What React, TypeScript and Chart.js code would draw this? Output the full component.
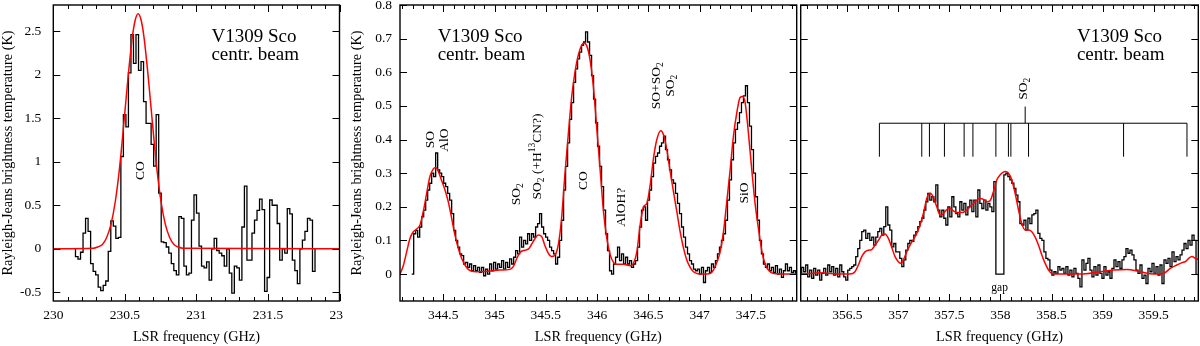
import React, { useEffect, useRef } from "react";
import { Chart, registerables } from "chart.js";

Chart.register(...registerables);

const FONT = '"Liberation Serif", "Times New Roman", Tinos, Times, serif';

// ---------------- data: CO 2-1 panel ----------------
const coStart = 230.155;
const coChannel = 0.01762;
const coValues = [
  -0.09, -0.12, -0.04, 0.18, 0.35, 0.2, -0.17, -0.26, -0.3, -0.44,
  -0.48, -0.42, -0.37, -0.03, 0.32, 0.26, 0.12, 0.13, 1.06, 1.54,
  1.4, 2.02, 2.46, 2.13, 2.46, 2.05, 2.15, 1.69, 1.44, 1.44,
  1.2, 0.95, 1.54, 0.64, 0.08, 0.07, 0.02, -0.05, -0.17, -0.25,
  -0.3, 0.37, 0.35, -0.2, -0.3, -0.28, 0.33, 0.62, 0.41, 0.03,
  -0.2, -0.22, -0.15, -0.36, 0.0, 0.12, -0.02, -0.05, -0.08, -0.2,
  0.0, -0.28, -0.51, -0.2, -0.22, -0.36, 0.25, 0.72, -0.13, -0.13,
  0.18, 0.33, 0.44, 0.57, 0.45, -0.49, -0.33, 0.56, 0.5, 0.5,
  0.29, -0.13, 0.0, -0.05, 0.46, 0.4, -0.13, -0.25, -0.4, 0.0,
  0.1, 0.2, 0.35, 0.33, -0.26,
];
const coModelFreq = [
  230.0, 230.28, 230.31, 230.343, 230.373, 230.403, 230.433, 230.463, 230.493, 230.523,
  230.553, 230.573, 230.593, 230.613, 230.633, 230.663, 230.693, 230.723, 230.753, 230.783,
  230.813, 230.843, 230.873, 230.906, 232.0,
];
const coModelValues = [
  0, 0.006, 0.02, 0.05, 0.13, 0.28, 0.54, 0.93, 1.44, 1.98,
  2.44, 2.63, 2.7, 2.63, 2.44, 1.98, 1.44, 0.93, 0.54, 0.28,
  0.13, 0.05, 0.02, 0.006, 0,
];
const coXTicks = [230, 230.5, 231, 231.5, 232];
const coYTicks = [-0.5, 0, 0.5, 1, 1.5, 2, 2.5];

// ---------------- data: 344-348 GHz panel ----------------
const midStart = 344.192;
const midChannel = 0.019493;
const midValues = [
  0.0, 0.12, 0.13, 0.11, 0.14, 0.17, 0.19, 0.22, 0.25, 0.27,
  0.3, 0.29, 0.36, 0.31, 0.3, 0.29, 0.27, 0.26, 0.24, 0.22,
  0.18, 0.13, 0.1, 0.08, 0.06, 0.055, 0.03, 0.035, 0.02, 0.03,
  0.01, 0.025, 0.01, 0.02, 0.005, 0.02, -0.005, 0.015, 0.0, 0.03,
  0.01, 0.035, 0.015, 0.03, 0.02, 0.04, 0.015, 0.035, 0.02, 0.045,
  0.03, 0.05, 0.07, 0.06, 0.11, 0.08, 0.1, 0.09, 0.12, 0.1,
  0.12, 0.11, 0.14, 0.15, 0.18, 0.14, 0.12, 0.11, 0.1, 0.08,
  0.07, 0.06, 0.03, 0.05, 0.1, 0.16, 0.25, 0.32, 0.39, 0.46,
  0.51, 0.57, 0.61, 0.64, 0.66, 0.68, 0.69, 0.72, 0.69, 0.65,
  0.59, 0.52, 0.45, 0.38, 0.32, 0.26, 0.19, 0.12, 0.07, 0.01,
  0.0, 0.03, 0.05, 0.08, 0.04, 0.06, 0.03, 0.05, 0.03, 0.04,
  0.02, 0.03, 0.04, 0.08, 0.14, 0.19, 0.2, 0.16, 0.22, 0.25,
  0.29, 0.33, 0.35, 0.36, 0.38, 0.39, 0.41, 0.37, 0.34, 0.31,
  0.28, 0.27, 0.24, 0.21, 0.18, 0.14, 0.11, 0.08, 0.06, 0.04,
  0.03, 0.015, 0.01, 0.015, 0.0, 0.02, -0.025, 0.01, 0.02, 0.005,
  0.03, 0.02, 0.04, 0.06, 0.08, 0.1, 0.12, 0.16, 0.22, 0.28,
  0.34, 0.39, 0.43, 0.45, 0.48, 0.51, 0.53, 0.56, 0.51, 0.44,
  0.37, 0.3, 0.23, 0.16, 0.1, 0.06, 0.03, 0.02, 0.03, 0.01,
  0.02, 0.005, 0.025, 0.0, 0.015, -0.01, 0.01, 0.03, 0.01, 0.02,
  0.005, 0.01, 0.0,
];
const midModelFreq = [
  344.078, 344.11, 344.143, 344.175, 344.208, 344.24, 344.273, 344.305, 344.338, 344.37,
  344.403, 344.426, 344.452, 344.484, 344.517, 344.549, 344.582, 344.614, 344.647, 344.679,
  344.712, 344.744, 344.793, 344.858, 344.955, 345.053, 345.15, 345.183, 345.215, 345.248,
  345.296, 345.329, 345.361, 345.394, 345.426, 345.459, 345.491, 345.524, 345.556, 345.589,
  345.621, 345.654, 345.686, 345.719, 345.751, 345.784, 345.816, 345.849, 345.872, 345.898,
  345.93, 345.963, 345.998, 346.03, 346.063, 346.095, 346.128, 346.16, 346.193, 346.258,
  346.323, 346.355, 346.388, 346.42, 346.453, 346.485, 346.518, 346.55, 346.583, 346.622,
  346.648, 346.68, 346.713, 346.745, 346.778, 346.81, 346.843, 346.875, 346.908, 346.94,
  346.973, 347.038, 347.103, 347.135, 347.168, 347.2, 347.233, 347.265, 347.298, 347.33,
  347.363, 347.395, 347.418, 347.444, 347.476, 347.509, 347.541, 347.574, 347.606, 347.639,
  347.671, 347.72, 347.947,
];
const midModelValues = [
  0.0, 0.025, 0.066, 0.106, 0.126, 0.134, 0.146, 0.186, 0.24, 0.29,
  0.313, 0.317, 0.305, 0.278, 0.25, 0.215, 0.166, 0.116, 0.076, 0.047,
  0.027, 0.014, 0.008, 0.007, 0.009, 0.012, 0.014, 0.022, 0.045, 0.064,
  0.071, 0.074, 0.088, 0.105, 0.116, 0.112, 0.085, 0.062, 0.052, 0.056,
  0.086, 0.166, 0.295, 0.414, 0.523, 0.6, 0.65, 0.68, 0.687, 0.68,
  0.64, 0.56, 0.43, 0.31, 0.185, 0.106, 0.057, 0.035, 0.029, 0.029,
  0.025, 0.032, 0.066, 0.146, 0.2, 0.21, 0.265, 0.344, 0.4, 0.426,
  0.414, 0.37, 0.305, 0.245, 0.186, 0.126, 0.077, 0.042, 0.02, 0.007,
  0.002, 0.0, 0.002, 0.012, 0.035, 0.066, 0.126, 0.215, 0.31, 0.41,
  0.48, 0.525, 0.528, 0.51, 0.42, 0.31, 0.21, 0.135, 0.07, 0.03,
  0.012, 0.002, 0.0,
];
const midXTicks = [344.5, 345, 345.5, 346, 346.5, 347, 347.5];
const midYTicks = [0, 0.1, 0.2, 0.3, 0.4, 0.5, 0.6, 0.7, 0.8];

// ---------------- data: 356-360 GHz panel ----------------
const so2Start = 356.053;
const so2Channel = 0.019608;
const so2Values = [
  0.02, 0.007, 0.027, -0.008, 0.012, -0.013, 0.017, -0.003, 0.012, -0.018,
  0.002, 0.017, -0.003, 0.027, 0.007, 0.022, -0.003, 0.017, -0.008, 0.027,
  0.007, -0.008, -0.018, 0.012, 0.017, 0.022, 0.027, 0.052, 0.076, 0.1,
  0.126, 0.131, 0.106, 0.121, 0.1, 0.11, 0.086, 0.11, 0.126, 0.136,
  0.116, 0.141, 0.2, 0.146, 0.131, 0.081, 0.091, 0.066, 0.066, 0.047,
  0.022, 0.042, 0.071, 0.091, 0.1, 0.097, 0.116, 0.126, 0.141, 0.156,
  0.166, 0.19, 0.215, 0.24, 0.22, 0.23, 0.215, 0.265, 0.19, 0.17,
  0.19, 0.166, 0.146, 0.2, 0.17, 0.23, 0.2, 0.18, 0.17, 0.215,
  0.19, 0.21, 0.176, 0.2, 0.22, 0.186, 0.22, 0.17, 0.25, 0.21,
  0.195, 0.22, 0.19, 0.21, 0.2, 0.186, 0.275,
  0, 0, 0, 0,
  0.295, 0.3, 0.29, 0.28, 0.27, 0.255, 0.235, 0.215, 0.15, 0.146,
  0.16, 0.131, 0.166, 0.15, 0.176, 0.18, 0.19, 0.121, 0.106, 0.1,
  0.066, 0.047, 0.042, 0.012, -0.003, 0.007, 0.002, 0.022, 0.012, 0.017,
  0.002, 0.022, -0.003, 0.012, -0.008, 0.017, 0.002, -0.013, -0.038, 0.042,
  0.012, 0.032, 0.047, 0.012, -0.008, 0.022, -0.003, 0.027, 0.002, -0.013,
  0.022, -0.003, 0.007, -0.013, 0.017, 0.042, 0.022, 0.037, 0.017, 0.042,
  0.052, 0.076, 0.062, 0.071, 0.057, 0.042, 0.012, 0.002, 0.027, -0.013,
  -0.003, -0.028, 0.017, 0.007, 0.032, 0.002, 0.022, -0.003, 0.027, -0.028,
  0.042, 0.032, 0.047, 0.022, 0.066, 0.037, 0.052, 0.042, 0.057, 0.071,
  0.091, 0.076, 0.1, 0.086, 0.116, 0.1,
];
const so2ModelFreq = [
  356.036, 356.134, 356.232, 356.33, 356.428, 356.526, 356.575, 356.608, 356.641, 356.673,
  356.706, 356.739, 356.771, 356.804, 356.837, 356.869, 356.902, 356.935, 356.967, 357.0,
  357.023, 357.049, 357.082, 357.114, 357.147, 357.18, 357.212, 357.245, 357.278, 357.31,
  357.343, 357.376, 357.408, 357.441, 357.474, 357.506, 357.539, 357.572, 357.604, 357.637,
  357.67, 357.702, 357.735, 357.768, 357.8, 357.833, 357.866, 357.898, 357.931, 357.964,
  357.997, 358.046, 358.079, 358.111, 358.144, 358.177, 358.209, 358.242, 358.275, 358.307,
  358.34, 358.373, 358.405, 358.438, 358.471, 358.503, 358.585, 358.781, 358.977, 359.108,
  359.239, 359.369, 359.5, 359.598, 359.664, 359.729, 359.778, 359.811, 359.844, 359.876,
  359.909, 359.951,
];
const so2ModelValues = [
  0, 0.002, 0.004, 0.002, 0, 0, 0.007, 0.027, 0.052, 0.066,
  0.071, 0.073, 0.086, 0.1, 0.116, 0.119, 0.106, 0.079, 0.052, 0.037,
  0.032, 0.042, 0.066, 0.086, 0.103, 0.121, 0.146, 0.18, 0.225, 0.24,
  0.228, 0.2, 0.176, 0.18, 0.192, 0.195, 0.188, 0.183, 0.183, 0.184,
  0.19, 0.2, 0.21, 0.22, 0.225, 0.222, 0.215, 0.218, 0.245, 0.28,
  0.295, 0.305, 0.3, 0.28, 0.24, 0.19, 0.15, 0.131, 0.131, 0.126,
  0.11, 0.086, 0.057, 0.032, 0.012, 0.002, 0, 0, 0.007, 0.012,
  0.014, 0.007, 0, 0.002, 0.017, 0.027, 0.034, 0.037, 0.047, 0.052,
  0.047, 0.042,
];
const so2XTicks = [356.5, 357, 357.5, 358, 358.5, 359, 359.5];
const so2YTicks = [0, 0.1, 0.2, 0.3, 0.4, 0.5, 0.6, 0.7, 0.8];
const so2LineFreqs = [
  356.814, 357.229, 357.304, 357.451, 357.644, 357.73, 357.955, 358.078, 358.102, 358.275,
  359.206, 359.827,
];
const so2StemFreq = 358.242;

// ---------------- helpers ----------------
type Note = { s: string; x: number; y: number; rot: boolean; align: "start" | "center"; size: number };

function stepPoints(start: number, w: number, vals: number[]) {
  const pts = [{ x: start, y: 0 }];
  vals.forEach((v, i) => pts.push({ x: start + i * w, y: v }));
  pts.push({ x: start + vals.length * w, y: 0 });
  return pts;
}
function curvePoints(xs: number[], ys: number[]) {
  return xs.map((x, i) => ({ x, y: ys[i] }));
}
const fmt = (v: any) => String(Math.round(Number(v) * 1000) / 1000);

type Seg = { t: string; k: "n" | "sub" | "sup" };
function parseRich(s: string): Seg[] {
  const out: Seg[] = [];
  const re = /_\{([^}]*)\}|\^\{([^}]*)\}|([^_^]+)/g;
  let m: RegExpExecArray | null;
  while ((m = re.exec(s))) {
    if (m[1] !== undefined) out.push({ t: m[1], k: "sub" });
    else if (m[2] !== undefined) out.push({ t: m[2], k: "sup" });
    else out.push({ t: m[3], k: "n" });
  }
  return out;
}
function drawRich(ctx: CanvasRenderingContext2D, n: Note, px: number, py: number) {
  const segs = parseRich(n.s);
  const size = n.size;
  const small = size * 0.7;
  const fN = `${size}px ${FONT}`;
  const fS = `${small}px ${FONT}`;
  let total = 0;
  const widths = segs.map((sg) => {
    ctx.font = sg.k === "n" ? fN : fS;
    const w = ctx.measureText(sg.t).width;
    total += w;
    return w;
  });
  ctx.save();
  if (n.rot) {
    ctx.translate(px + size * 0.33, py);
    ctx.rotate(-Math.PI / 2);
  } else {
    ctx.translate(px, py);
  }
  ctx.fillStyle = "#000";
  ctx.textBaseline = "alphabetic";
  ctx.textAlign = "left";
  let cx = n.align === "center" ? -total / 2 : 0;
  segs.forEach((sg, i) => {
    ctx.font = sg.k === "n" ? fN : fS;
    const dy = sg.k === "sub" ? size * 0.22 : sg.k === "sup" ? -size * 0.42 : 0;
    ctx.fillText(sg.t, cx, dy);
    cx += widths[i];
  });
  ctx.restore();
}

type PanelProps = {
  left: number;
  width: number;
  plotLeft: number;
  plotRight: number;
  xMin: number;
  xMax: number;
  yMin: number;
  yMax: number;
  xTicks: number[];
  yTicks: number[];
  yLabels: boolean;
  yLabelPad: number;
  yTitlePad: number;
  spectrum: { x: number; y: number }[];
  model: { x: number; y: number }[];
  notes: Note[];
  bracket?: { lines: number[]; stem: number; yBar: number; yLow: number; yTop: number };
};

function Panel(p: PanelProps) {
  const ref = useRef<HTMLCanvasElement | null>(null);
  useEffect(() => {
    const canvas = ref.current;
    if (!canvas) return;
    const deco = {
      id: "deco",
      afterDraw(c: any) {
        const { ctx, chartArea: a } = c;
        const xs = c.scales.x;
        const ys = c.scales.y;
        ctx.save();
        ctx.strokeStyle = "#000";
        ctx.lineWidth = 1;
        ctx.beginPath();
        const k0 = Math.ceil(p.xMin * 10 - 1e-6);
        const k1 = Math.floor(p.xMax * 10 + 1e-6);
        for (let k = k0; k <= k1; k++) {
          const px = Math.round(xs.getPixelForValue(k / 10)) + 0.5;
          const len = k % 5 === 0 ? 7 : 4;
          ctx.moveTo(px, a.bottom);
          ctx.lineTo(px, a.bottom - len);
          ctx.moveTo(px, a.top);
          ctx.lineTo(px, a.top + len);
        }
        p.yTicks.forEach((v) => {
          const py = Math.round(ys.getPixelForValue(v)) + 0.5;
          ctx.moveTo(a.left, py);
          ctx.lineTo(a.left + 7, py);
          ctx.moveTo(a.right, py);
          ctx.lineTo(a.right - 7, py);
        });
        ctx.stroke();
        if (p.bracket) {
          const b = p.bracket;
          const yb = ys.getPixelForValue(b.yBar);
          const yl = ys.getPixelForValue(b.yLow);
          const yt = ys.getPixelForValue(b.yTop);
          const xsL = b.lines.map((f) => xs.getPixelForValue(f));
          ctx.beginPath();
          ctx.moveTo(Math.min(...xsL), yb);
          ctx.lineTo(Math.max(...xsL), yb);
          xsL.forEach((x) => {
            ctx.moveTo(x, yb);
            ctx.lineTo(x, yl);
          });
          const xs0 = xs.getPixelForValue(b.stem);
          ctx.moveTo(xs0, yb);
          ctx.lineTo(xs0, yt);
          ctx.stroke();
        }
        ctx.lineWidth = 1.4;
        ctx.strokeRect(a.left, a.top, a.right - a.left, a.bottom - a.top);
        p.notes.forEach((n) => {
          drawRich(ctx, n, xs.getPixelForValue(n.x), ys.getPixelForValue(n.y));
        });
        ctx.restore();
      },
    };
    const zeroPad = (s: any) => {
      s.paddingLeft = 0;
      s.paddingRight = 0;
      s.paddingTop = 0;
      s.paddingBottom = 0;
    };
    const chart = new Chart(canvas, {
      type: "line",
      data: {
        datasets: [
          {
            data: p.model,
            borderColor: "#ff0000",
            borderWidth: 1.5,
            cubicInterpolationMode: "monotone",
            pointRadius: 0,
            fill: false,
          },
          {
            data: p.spectrum,
            borderColor: "#000000",
            borderWidth: 1.3,
            stepped: "before",
            pointRadius: 0,
            fill: false,
          },
        ],
      } as any,
      options: {
        responsive: false,
        animation: false,
        events: [],
        layout: { padding: { left: 0, right: p.width - p.plotRight, top: 5, bottom: 0 } },
        plugins: { legend: { display: false }, tooltip: { enabled: false } },
        scales: {
          x: {
            type: "linear",
            min: p.xMin,
            max: p.xMax,
            afterBuildTicks: (s: any) => {
              s.ticks = p.xTicks.map((v) => ({ value: v }));
            },
            afterFit: (s: any) => {
              s.height = 45;
              zeroPad(s);
            },
            grid: { display: false, drawTicks: false },
            border: { display: false },
            ticks: {
              padding: 6,
              color: "#000",
              autoSkip: false,
              maxRotation: 0,
              font: { family: FONT, size: 13.5 },
              callback: fmt,
            },
            title: {
              display: true,
              text: "LSR frequency (GHz)",
              color: "#000",
              font: { family: FONT, size: 14.3 },
              padding: { top: 0, bottom: 0 },
            },
          },
          y: {
            type: "linear",
            min: p.yMin,
            max: p.yMax,
            afterBuildTicks: (s: any) => {
              s.ticks = p.yTicks.map((v) => ({ value: v }));
            },
            afterFit: (s: any) => {
              s.width = p.plotLeft;
              zeroPad(s);
            },
            grid: { display: false, drawTicks: false },
            border: { display: false },
            ticks: {
              display: p.yLabels,
              padding: p.yLabelPad,
              color: "#000",
              font: { family: FONT, size: 13.5 },
              callback: fmt,
            },
            title: {
              display: p.yLabels,
              text: "Rayleigh-Jeans brightness temperature (K)",
              color: "#000",
              font: { family: FONT, size: 14.3 },
              padding: { top: p.yTitlePad, bottom: 0 },
            },
          },
        },
      } as any,
      plugins: [deco],
    });
    return () => chart.destroy();
  }, []);
  return (
    <canvas
      ref={ref}
      width={p.width}
      height={346}
      style={{ position: "absolute", left: p.left, top: 0, width: p.width, height: 346 }}
    />
  );
}

const coNotes: Note[] = [
  { s: "CO", x: 230.601, y: 0.79, rot: true, align: "start", size: 13.5 },
  { s: "V1309 Sco", x: 231.105, y: 2.38, rot: false, align: "start", size: 19 },
  { s: "centr. beam", x: 231.105, y: 2.17, rot: false, align: "start", size: 19 },
];
const midNotes: Note[] = [
  { s: "SO", x: 344.37, y: 0.374, rot: true, align: "start", size: 13.5 },
  { s: "AlO", x: 344.507, y: 0.364, rot: true, align: "start", size: 13.5 },
  { s: "SO_{2}", x: 345.206, y: 0.205, rot: true, align: "start", size: 13.5 },
  { s: "SO_{2} (+H^{13}CN?)", x: 345.41, y: 0.222, rot: true, align: "start", size: 13.5 },
  { s: "CO", x: 345.859, y: 0.25, rot: true, align: "start", size: 13.5 },
  { s: "AlOH?", x: 346.232, y: 0.141, rot: true, align: "start", size: 13.5 },
  { s: "SO+SO_{2}", x: 346.573, y: 0.56, rot: true, align: "center", size: 13.5 },
  { s: "SO_{2}", x: 346.709, y: 0.56, rot: true, align: "center", size: 13.5 },
  { s: "SiO", x: 347.431, y: 0.21, rot: true, align: "start", size: 13.5 },
  { s: "V1309 Sco", x: 344.445, y: 0.691, rot: false, align: "start", size: 19 },
  { s: "centr. beam", x: 344.445, y: 0.637, rot: false, align: "start", size: 19 },
];
const so2Notes: Note[] = [
  { s: "SO_{2}", x: 358.22, y: 0.518, rot: true, align: "start", size: 13.5 },
  { s: "gap", x: 357.992, y: -0.049, rot: false, align: "center", size: 11.5 },
  { s: "V1309 Sco", x: 358.749, y: 0.691, rot: false, align: "start", size: 19 },
  { s: "centr. beam", x: 358.749, y: 0.637, rot: false, align: "start", size: 19 },
];

export default function App() {
  return (
    <div
      style={{
        position: "fixed",
        left: 0,
        top: 0,
        width: 1200,
        height: 346,
        background: "#fff",
        overflow: "hidden",
      }}
    >
      <Panel
        left={0}
        width={343}
        plotLeft={53.3}
        plotRight={339.5}
        xMin={230}
        xMax={232}
        yMin={-0.6}
        yMax={2.8}
        xTicks={coXTicks}
        yTicks={coYTicks}
        yLabels={true}
        yLabelPad={12}
        yTitlePad={0}
        spectrum={stepPoints(coStart, coChannel, coValues)}
        model={curvePoints(coModelFreq, coModelValues)}
        notes={coNotes}
      />
      <Panel
        left={343}
        width={455}
        plotLeft={57}
        plotRight={453.7}
        xMin={344.078}
        xMax={347.947}
        yMin={-0.08}
        yMax={0.8}
        xTicks={midXTicks}
        yTicks={midYTicks}
        yLabels={true}
        yLabelPad={8}
        yTitlePad={5.2}
        spectrum={stepPoints(midStart, midChannel, midValues)}
        model={curvePoints(midModelFreq, midModelValues)}
        notes={midNotes}
      />
      <Panel
        left={798}
        width={402}
        plotLeft={2.7}
        plotRight={400.3}
        xMin={356.043}
        xMax={359.938}
        yMin={-0.08}
        yMax={0.8}
        xTicks={so2XTicks}
        yTicks={so2YTicks}
        yLabels={false}
        yLabelPad={0}
        yTitlePad={0}
        spectrum={stepPoints(so2Start, so2Channel, so2Values)}
        model={curvePoints(so2ModelFreq, so2ModelValues)}
        notes={so2Notes}
        bracket={{ lines: so2LineFreqs, stem: so2StemFreq, yBar: 0.4485, yLow: 0.349, yTop: 0.498 }}
      />
    </div>
  );
}
